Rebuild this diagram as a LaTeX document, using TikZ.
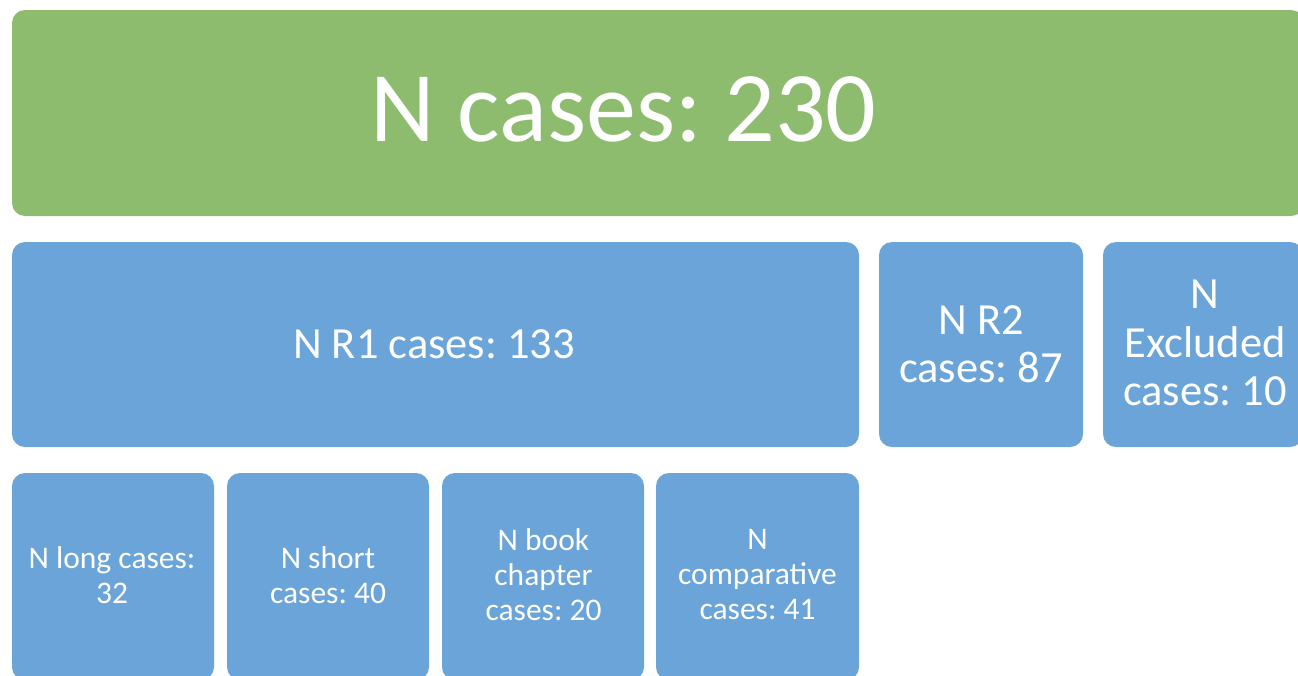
\documentclass[tikz,border=0pt]{standalone}
\usepackage{fontspec}
\setmainfont{Carlito}
\frenchspacing
\definecolor{topgreen}{RGB}{141,188,110}
\definecolor{boxblue}{RGB}{106,164,216}
\begin{document}
\begin{tikzpicture}[x=1pt,y=-1pt,
  box/.style={rounded corners=13pt, inner sep=0pt, outer sep=0pt},
  greenbox/.style={box, fill=topgreen},
  bluebox/.style={box, fill=boxblue},
  lbl/.style={text=white, align=center, inner sep=0pt},
  bigtext/.style={lbl, font=\fontsize{100}{110}\selectfont},
  midtext/.style={lbl, font=\fontsize{44.5}{48.5}\selectfont},
  smalltext/.style={lbl, font=\fontsize{31.5}{35}\selectfont},
]
\useasboundingbox (0,0) rectangle (1298,675);
\clip (0,0) rectangle (1298,675);

% total
\node[greenbox, minimum width=1292pt, minimum height=206pt] (all) at (658,113) {};
\node[bigtext] (allt) at (623.5,109) {N cases: 230};

% second level
\node[bluebox, minimum width=847pt, minimum height=205pt] (r1) at (435.5,344.5) {};
\node[midtext] (r1t) at (434,344) {N R1 cases: 133};
\node[bluebox, minimum width=204pt, minimum height=205pt] (r2) at (981,344.5) {};
\node[midtext] (r2t) at (981,344) {N R2\\cases: 87};
\node[bluebox, minimum width=200pt, minimum height=205pt] (ex) at (1203,344.5) {};
\node[midtext] (ext) at (1205,343) {N\\Excluded\\cases: 10};

% third level
\node[bluebox, minimum width=202pt, minimum height=207pt] (lg) at (113,576.5) {};
\node[smalltext] (lgt) at (112,575) {N long cases:\\32};
\node[bluebox, minimum width=202pt, minimum height=207pt] (sh) at (328,576.5) {};
\node[smalltext] (sht) at (328,575) {N short\\cases: 40};
\node[bluebox, minimum width=202pt, minimum height=207pt] (bk) at (543,576.5) {};
\node[smalltext] (bkt) at (543.5,575) {N book\\chapter\\cases: 20};
\node[bluebox, minimum width=203pt, minimum height=207pt] (cp) at (757.5,576.5) {};
\node[smalltext] (cpt) at (757.5,575) {N\\comparative\\cases: 41};
\end{tikzpicture}
\end{document}
